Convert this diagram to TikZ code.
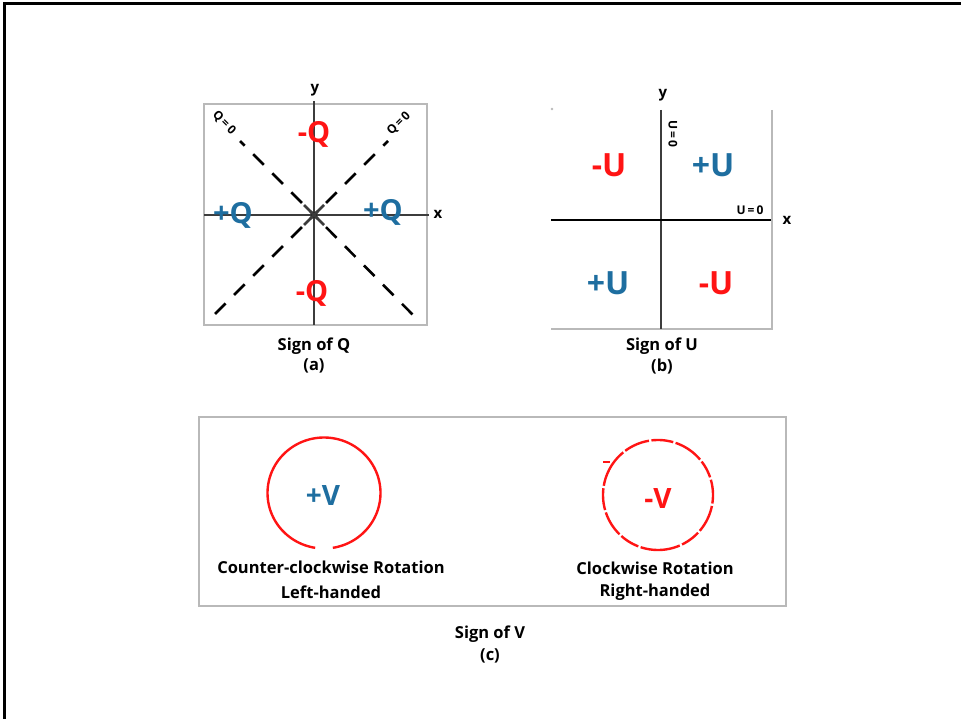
\documentclass[tikz,border=0pt]{standalone}
\usepackage{fontspec}
\setmainfont{Open Sans}
\definecolor{qred}{RGB}{255,20,20}
\definecolor{qblue}{RGB}{30,110,160}
\definecolor{boxgray}{RGB}{185,185,185}
\definecolor{axisgray}{RGB}{60,60,60}
\begin{document}
\begin{tikzpicture}[x=1pt,y=-1pt,
  frameline/.style={line width=3pt,black},
  graybox/.style={draw=boxgray,line width=2.6pt},
  axisline/.style={draw=axisgray,line width=2.8pt},
  diagline/.style={draw=black,line width=2.6pt,dash pattern=on 15pt off 12pt},
  xmark/.style={draw=axisgray,line width=2.8pt},
  bigred/.style={text=qred,font=\bfseries\fontsize{29}{31}\selectfont,inner sep=0pt},
  bigblue/.style={text=qblue,font=\bfseries\fontsize{29}{31}\selectfont,inner sep=0pt},
  ured/.style={text=qred,font=\bfseries\fontsize{32}{34}\selectfont,inner sep=0pt},
  ublue/.style={text=qblue,font=\bfseries\fontsize{32}{34}\selectfont,inner sep=0pt},
  vtext/.style={font=\bfseries\fontsize{28}{30}\selectfont,inner sep=0pt},
  caption/.style={font=\bfseries\fontsize{16.5}{18}\selectfont,inner sep=0pt,text=black},
  axlabel/.style={font=\bfseries\fontsize{15}{16}\selectfont,inner sep=0pt},
  smalllabel/.style={font=\bfseries\fontsize{12}{13}\selectfont,inner sep=0pt},
  circ/.style={draw=qred,line width=2.4pt}]
\useasboundingbox (0,0) rectangle (961,719);
% outer frame
\coordinate (fbl) at (4,719);
\coordinate (ftl) at (4,4);
\coordinate (ftr) at (961,4);
\draw[frameline] (fbl) -- (ftl) -- (ftr);

% ---------- panel (a) ----------
\coordinate (aTL) at (204,104);
\coordinate (aBR) at (427,325);
\draw[graybox] (aTL) rectangle (aBR);
\coordinate (aC) at (314,215);
\coordinate (aTop) at (314,101);
\coordinate (aBot) at (314,325);
\coordinate (aL) at (204,215);
\coordinate (aR) at (429,215);
\draw[axisline] (aTop) -- (aBot);
\draw[axisline] (aL) -- (aR);
\node[axlabel] (ay) at (315,90) {y};
\node[axlabel] (ax) at (438,214) {x};
\coordinate (dLL) at (209,320);
\coordinate (dUR) at (388,141);
\coordinate (dRL) at (418,320);
\coordinate (dUL) at (240,141);
\draw[diagline,dash phase=10pt] (aC) -- (dLL);
\draw[diagline,dash phase=10pt] (aC) -- (dUR);
\draw[diagline,dash phase=10pt] (aC) -- (dRL);
\draw[diagline,dash phase=10pt] (aC) -- (dUL);
\coordinate (x1) at (304,205);
\coordinate (x2) at (324,225);
\coordinate (x3) at (324,205);
\coordinate (x4) at (304,225);
\draw[xmark] (x1) -- (x2);
\draw[xmark] (x3) -- (x4);
\node[smalllabel,rotate=-45] (qzl) at (224,123) {Q\,=\,0};
\node[smalllabel,rotate=45] (qzr) at (399,124) {Q\,=\,0};
\node[bigred] (aq1) at (314,134) {-Q};
\node[bigblue] (aq2) at (233,215) {+Q};
\node[bigblue] (aq3) at (383,212) {+Q};
\node[bigred] (aq4) at (312,293) {-Q};
\node[caption] (capa) at (314,346) {Sign of Q};
\node[caption] (capa2) at (314,366) {(a)};

% ---------- panel (b) ----------
\coordinate (bTL) at (552,109);
\coordinate (bTR) at (772,110);
\coordinate (bBR) at (772,329);
\coordinate (bBL) at (551,329);
\fill[boxgray] (bTL) circle (1.3pt);
\draw[graybox] (bTR) -- (bBR) -- (bBL);
\coordinate (bTop) at (661,110);
\coordinate (bBot) at (661,329);
\coordinate (bL) at (551,220);
\coordinate (bR) at (771,220);
\draw[axisline] (bTop) -- (bBot);
\draw[draw=black,line width=2.6pt] (bL) -- (bR);
\node[axlabel] (by) at (663,95) {y};
\node[axlabel] (bx) at (787,220) {x};
\node[smalllabel,rotate=-90] (uzv) at (673,134) {U\,=\,0};
\node[smalllabel] (uzh) at (750,210) {U\,=\,0};
\node[ured] (bu1) at (609,165) {-U};
\node[ublue] (bu2) at (713,165) {+U};
\node[ublue] (bu3) at (608,283) {+U};
\node[ured] (bu4) at (716,283) {-U};
\node[caption] (capb) at (662,346) {Sign of U};
\node[caption] (capb2) at (662,367) {(b)};

% ---------- panel (c) ----------
\coordinate (cTL) at (199,417);
\coordinate (cBR) at (786,606);
\draw[graybox] (cTL) rectangle (cBR);
\coordinate (c1) at (324,493);
\coordinate (c2) at (658,495);
\coordinate (tick) at (610,462);
\draw[circ,shift={(c1)},domain=-81:261,samples=120,variable=\t,smooth]
  plot ({56.5*cos(\t)},{-55.5*sin(\t)});
\draw[circ,shift={(c2)},domain=150:-210,samples=140,variable=\t,smooth,
  dash pattern=on 20pt off 2.5pt on 26pt off 2.5pt on 22pt off 2.5pt on 30pt off 2.5pt on 18pt off 2.5pt on 24pt off 2.5pt on 28pt off 2.5pt on 20pt off 2.5pt on 40pt off 2.5pt]
  plot ({55*cos(\t)},{-55*sin(\t)});
\draw[circ,line width=1.6pt] (tick) -- ++(-7,0);
\node[vtext,text=qblue] (cv1) at (323,496) {+V};
\node[vtext,text=qred] (cv2) at (658,499) {-V};
\node[caption] (ccw) at (331,567) {Counter-clockwise Rotation};
\node[caption] (ccw2) at (331,592) {Left-handed};
\node[caption] (cw) at (655,568) {Clockwise Rotation};
\node[caption] (cw2) at (655,592) {Right-handed};
\node[caption] (capc) at (490,634) {Sign of V};
\node[caption] (capc2) at (490,656) {(c)};
\end{tikzpicture}
\end{document}
